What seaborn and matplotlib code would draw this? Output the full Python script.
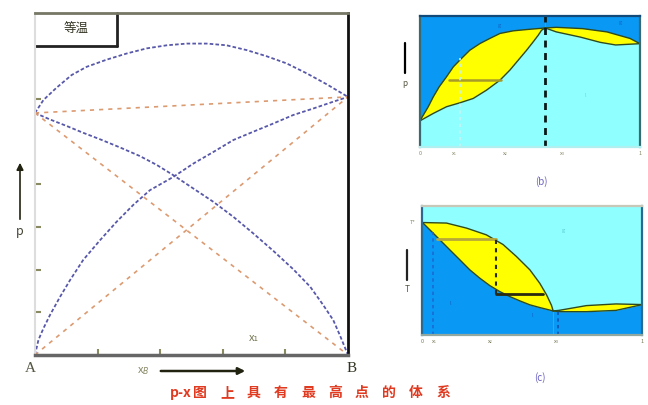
import numpy as np
import pandas as pd
import matplotlib
matplotlib.use("Agg")
import matplotlib.pyplot as plt
import seaborn as sns

# ---------------- data ----------------
# left panel: p-x diagram with a maximum (isothermal)
pA_x = [0.0, 0.048, 0.101, 0.154, 0.208, 0.272, 0.335, 0.389, 0.442, 0.506, 0.57,
        0.634, 0.697, 0.761, 0.825, 0.879, 0.921, 0.953, 0.974, 1.0]
pA_y = [0.708, 0.689, 0.670, 0.650, 0.631, 0.607, 0.582, 0.556, 0.526, 0.487, 0.448,
        0.404, 0.356, 0.305, 0.251, 0.200, 0.146, 0.102, 0.058, 0.0]
pB_x = [0.0, 0.011, 0.027, 0.048, 0.08, 0.112, 0.154, 0.208, 0.261, 0.314, 0.367,
        0.442, 0.506, 0.57, 0.634, 0.697, 0.761, 0.825, 0.889, 0.953, 1.0]
pB_y = [0.0, 0.044, 0.078, 0.117, 0.17, 0.219, 0.278, 0.336, 0.39, 0.439, 0.482,
        0.521, 0.56, 0.594, 0.629, 0.653, 0.677, 0.702, 0.721, 0.741, 0.755]
pT_x = [0.0, 0.027, 0.069, 0.117, 0.165, 0.229, 0.293, 0.357, 0.421, 0.485, 0.549,
        0.612, 0.676, 0.74, 0.804, 0.868, 0.932, 1.0]
pT_y = [0.708, 0.746, 0.782, 0.819, 0.843, 0.864, 0.882, 0.897, 0.906, 0.911, 0.911,
        0.906, 0.892, 0.874, 0.853, 0.824, 0.792, 0.755]
ideal_x = [0.0, 1.0]
ideal_pA = [0.708, 0.0]
ideal_pB = [0.0, 0.755]
ideal_pT = [0.708, 0.755]
left_xticks = [0.2, 0.4, 0.6, 0.8]
left_yticks = [0.125, 0.25, 0.375, 0.5, 0.75]

# panel (b): p-x phase diagram
b_lu_x = [0.0, 0.038, 0.061, 0.088, 0.121, 0.152, 0.189, 0.227, 0.273, 0.318, 0.364,
          0.424, 0.485, 0.57]
b_lu_y = [0.2, 0.308, 0.384, 0.461, 0.537, 0.613, 0.677, 0.74, 0.791, 0.83, 0.868,
          0.888, 0.898, 0.91]
b_ll_x = [0.0, 0.061, 0.121, 0.182, 0.242, 0.303, 0.364, 0.409, 0.447, 0.485, 0.515,
          0.538, 0.553, 0.57]
b_ll_y = [0.2, 0.257, 0.308, 0.338, 0.371, 0.435, 0.511, 0.588, 0.664, 0.74, 0.804,
          0.855, 0.893, 0.91]
b_ru_x = [0.57, 0.62, 0.74, 0.85, 0.955, 1.0]
b_ru_y = [0.91, 0.915, 0.905, 0.88, 0.83, 0.79]
b_rl_x = [0.57, 0.62, 0.73, 0.82, 0.89, 1.0]
b_rl_y = [0.91, 0.88, 0.84, 0.80, 0.78, 0.79]
b_azeo_x = 0.57
b_tie = (0.13, 0.37, 0.51)
b_xticks = [0.0, 0.155, 0.39, 0.65, 1.0]

# panel (c): T-x phase diagram
c_lu_x = [0.0, 0.109, 0.2, 0.29, 0.366, 0.427, 0.488, 0.533, 0.564, 0.586, 0.594]
c_lu_y = [0.87, 0.866, 0.827, 0.775, 0.70, 0.607, 0.504, 0.40, 0.31, 0.23, 0.186]
c_ll_x = [0.0, 0.0485, 0.079, 0.124, 0.17, 0.215, 0.26, 0.306, 0.351, 0.397, 0.442,
          0.488, 0.533, 0.594]
c_ll_y = [0.87, 0.788, 0.736, 0.659, 0.581, 0.504, 0.44, 0.382, 0.336, 0.297, 0.264,
          0.233, 0.212, 0.186]
c_ru_x = [0.594, 0.62, 0.745, 0.88, 1.0]
c_ru_y = [0.186, 0.19, 0.227, 0.24, 0.235]
c_rl_x = [0.594, 0.62, 0.745, 0.88, 1.0]
c_rl_y = [0.186, 0.18, 0.18, 0.19, 0.235]
c_tie_hi = (0.064, 0.336, 0.74)
c_tie_lo = (0.336, 0.548, 0.315)
c_xticks = [0.0, 0.053, 0.31, 0.61, 1.0]
tick_labels = ["0", "x₁", "x₂", "x₃", "1"]

caption = "p-x图上具有最高点的体系"

# ---------------- styling ----------------
sns.set_theme(style="white")
plt.rcParams['font.family'] = ['Noto Sans CJK SC', 'DejaVu Sans']

DARK = "#0a98f5"
LIGHT = "#90ffff"
YEL = "#ffff00"
EDGE = "#2f4a1e"
BLUE_L = "#5858aa"
ORNG = "#dc9a70"

fig = plt.figure(figsize=(6.48, 4.05), dpi=100)
fig.patch.set_facecolor("white")

# ---------------- left panel ----------------
ax = fig.add_axes([0.054, 0.1235, 0.483, 0.844])
for xs, ys in [(pA_x, pA_y), (pB_x, pB_y), (pT_x, pT_y)]:
    sns.lineplot(x=xs, y=ys, ax=ax, color=BLUE_L, lw=1.3,
                 linestyle=(0, (2, 1.2)), sort=False)
for ys in [ideal_pA, ideal_pB, ideal_pT]:
    sns.lineplot(x=ideal_x, y=ys, ax=ax, color=ORNG, lw=1.2,
                 linestyle=(0, (2.5, 3)), sort=False)
ax.set_xlim(0, 1)
ax.set_ylim(0, 1)
ax.set_xticks(left_xticks)
ax.set_yticks(left_yticks)
ax.set_xticklabels([])
ax.set_yticklabels([])
ax.tick_params(direction="in", length=4, width=1.5, colors="#8a8a60",
               bottom=True, left=True)
ax.spines["top"].set_color("#777766"); ax.spines["top"].set_linewidth(2)
ax.spines["right"].set_color("#111111"); ax.spines["right"].set_linewidth(2)
ax.spines["bottom"].set_color("#666666"); ax.spines["bottom"].set_linewidth(2.5)
ax.spines["left"].set_color("#dddddd"); ax.spines["left"].set_linewidth(1.5)
# title box
ax.plot([0.262, 0.262], [0.904, 1.0], color="#222222", lw=2, transform=ax.transAxes, clip_on=False)
ax.plot([0.0, 0.262], [0.904, 0.904], color="#222222", lw=2, transform=ax.transAxes, clip_on=False)
ax.text(0.131, 0.952, "等温", transform=ax.transAxes, ha="center", va="center",
        fontsize=9, color="#333322")
ax.text(0.70, 0.05, "x₁", transform=ax.transAxes, ha="center", va="center",
        fontsize=8, color="#777755")

# labels around left panel
fig.text(30/648, 1-368/405, "A", fontsize=11, ha="center", va="center", color="#555544",
         family="Liberation Serif")
fig.text(352/648, 1-368/405, "B", fontsize=11, ha="center", va="center", color="#333322",
         family="Liberation Serif")
fig.text(143/648, 1-371/405, "x$_B$", fontsize=8, ha="center", va="center", color="#888866")
ax.annotate("", xy=(248/648, 1-371/405), xytext=(158/648, 1-371/405),
            xycoords="figure fraction", textcoords="figure fraction", annotation_clip=False,
            arrowprops=dict(arrowstyle="-|>", color="#222211", lw=1.8, mutation_scale=10))
ax.annotate("", xy=(20/648, 1-160/405), xytext=(20/648, 1-222/405),
            xycoords="figure fraction", textcoords="figure fraction", annotation_clip=False,
            arrowprops=dict(arrowstyle="-|>", color="#222211", lw=1.2, mutation_scale=10))
fig.text(20/648, 1-232/405, "p", fontsize=9, ha="center", va="center", color="#444433",
         style="italic")

# caption
cx0 = 170
for i, ch in enumerate(["p-x"] + list(caption[3:])):
    xpos = cx0 + (0 if i == 0 else 30 + (i - 1) * 27)
    fig.text(xpos/648, 1-393/405, ch, fontsize=10, ha="left" if i == 0 else "center",
             va="center", color="#e03a20", style="italic", weight="bold")

# ---------------- panel (b) ----------------
bx = fig.add_axes([0.648, 0.637, 0.3395, 0.323])
bx.set_facecolor(LIGHT)
bx.fill_between(b_lu_x, b_lu_y, 1, color=DARK, lw=0)
bx.fill_between(b_ru_x, b_ru_y, 1, color=DARK, lw=0)
bx.fill(b_lu_x + b_ll_x[::-1], b_lu_y + b_ll_y[::-1], color=YEL, lw=0)
bx.fill(b_ru_x + b_rl_x[::-1], b_ru_y + b_rl_y[::-1], color=YEL, lw=0)
for xs, ys in [(b_lu_x, b_lu_y), (b_ll_x, b_ll_y), (b_ru_x, b_ru_y), (b_rl_x, b_rl_y)]:
    sns.lineplot(x=xs, y=ys, ax=bx, color=EDGE, lw=1.0, sort=False)
bx.plot([b_tie[0], b_tie[1]], [b_tie[2], b_tie[2]], color="#a89a2a", lw=1.8)
bx.plot([0.18, 0.18], [0, 0.68], color="#c8f4f4", lw=1.2, linestyle=(0, (2, 2)))
bx.axvline(b_azeo_x, color="#0a1a1a", lw=2, linestyle=(0, (2.5, 2)))
bx.text(0.75, 0.38, "l", fontsize=4, color="#66d8e0", ha="center")
bx.text(0.36, 0.92, "g", fontsize=4, color="#1060c0", ha="center")
bx.text(0.91, 0.94, "g", fontsize=4, color="#1060c0", ha="center")
bx.set_xlim(0, 1); bx.set_ylim(0, 1)
bx.set_xticks(b_xticks)
bx.set_xticklabels(tick_labels, fontsize=4, color="#888866")
bx.set_yticks([])
bx.tick_params(axis="x", length=0, pad=3)
for s in bx.spines.values():
    s.set_color("#3a6a70"); s.set_linewidth(1.6)
bx.spines["top"].set_color("#124a7a")
bx.spines["bottom"].set_color("#b0f0f0")
fig.text(541/648, 1-182/405, "(b)", fontsize=7, ha="center", va="center", color="#6a62c0")
fig.add_artist(plt.Line2D([405/648, 405/648], [1-73/405, 1-43/405], color="black", lw=1.6))
fig.text(405/648, 1-84/405, "p", fontsize=6, ha="center", va="center", color="#555544")

# ---------------- panel (c) ----------------
cx = fig.add_axes([0.652, 0.173, 0.3395, 0.319])
cx.set_facecolor(LIGHT)
cx.fill_between(c_ll_x, 0, c_ll_y, color=DARK, lw=0)
cx.fill_between(c_rl_x, 0, c_rl_y, color=DARK, lw=0)
cx.fill(c_lu_x + c_ll_x[::-1], c_lu_y + c_ll_y[::-1], color=YEL, lw=0)
cx.fill(c_ru_x + c_rl_x[::-1], c_ru_y + c_rl_y[::-1], color=YEL, lw=0)
for xs, ys in [(c_lu_x, c_lu_y), (c_ll_x, c_ll_y), (c_ru_x, c_ru_y), (c_rl_x, c_rl_y)]:
    sns.lineplot(x=xs, y=ys, ax=cx, color=EDGE, lw=1.0, sort=False)
cx.plot([c_tie_hi[0], c_tie_hi[1]], [c_tie_hi[2], c_tie_hi[2]], color="#b8a838", lw=2)
cx.plot([c_tie_lo[0], c_tie_lo[1]], [c_tie_lo[2], c_tie_lo[2]], color="#2a2a10", lw=2)
cx.plot([c_tie_hi[1], c_tie_hi[1]], [c_tie_lo[2], c_tie_hi[2]], color="#2a2a10", lw=1.5,
        linestyle=(0, (2, 2)))
cx.plot([0.048, 0.048], [0, 0.8], color="#1a6ad0", lw=1.2, linestyle=(0, (2, 2)))
cx.plot([0.617, 0.617], [0, 0.186], color="#1050b0", lw=1.2, linestyle=(0, (2, 2)))
cx.text(0.64, 0.80, "g", fontsize=4, color="#55c8d0", ha="center")
cx.text(0.125, 0.23, "l", fontsize=4, color="#1060c0", ha="center")
cx.text(0.5, 0.14, "l", fontsize=4, color="#1060c0", ha="center")
cx.set_xlim(0, 1); cx.set_ylim(0, 1)
cx.set_xticks(c_xticks)
cx.set_xticklabels(tick_labels, fontsize=4, color="#777755")
cx.set_yticks([])
cx.tick_params(axis="x", length=0, pad=3)
for s in cx.spines.values():
    s.set_color("#2a6a90"); s.set_linewidth(1.6)
cx.spines["top"].set_color("#c8c8b8")
cx.spines["bottom"].set_color("#90a8a0")
fig.text(540/648, 1-378/405, "(c)", fontsize=7, ha="center", va="center", color="#6a62c0")
fig.text(413/648, 1-222/405, "T*", fontsize=4, ha="center", va="center", color="#888866")
fig.add_artist(plt.Line2D([407/648, 407/648], [1-280/405, 1-250/405], color="#222222", lw=1.6))
fig.text(407/648, 1-290/405, "T", fontsize=6, ha="center", va="center", color="#555544")

fig.savefig("out.png", dpi=100)
